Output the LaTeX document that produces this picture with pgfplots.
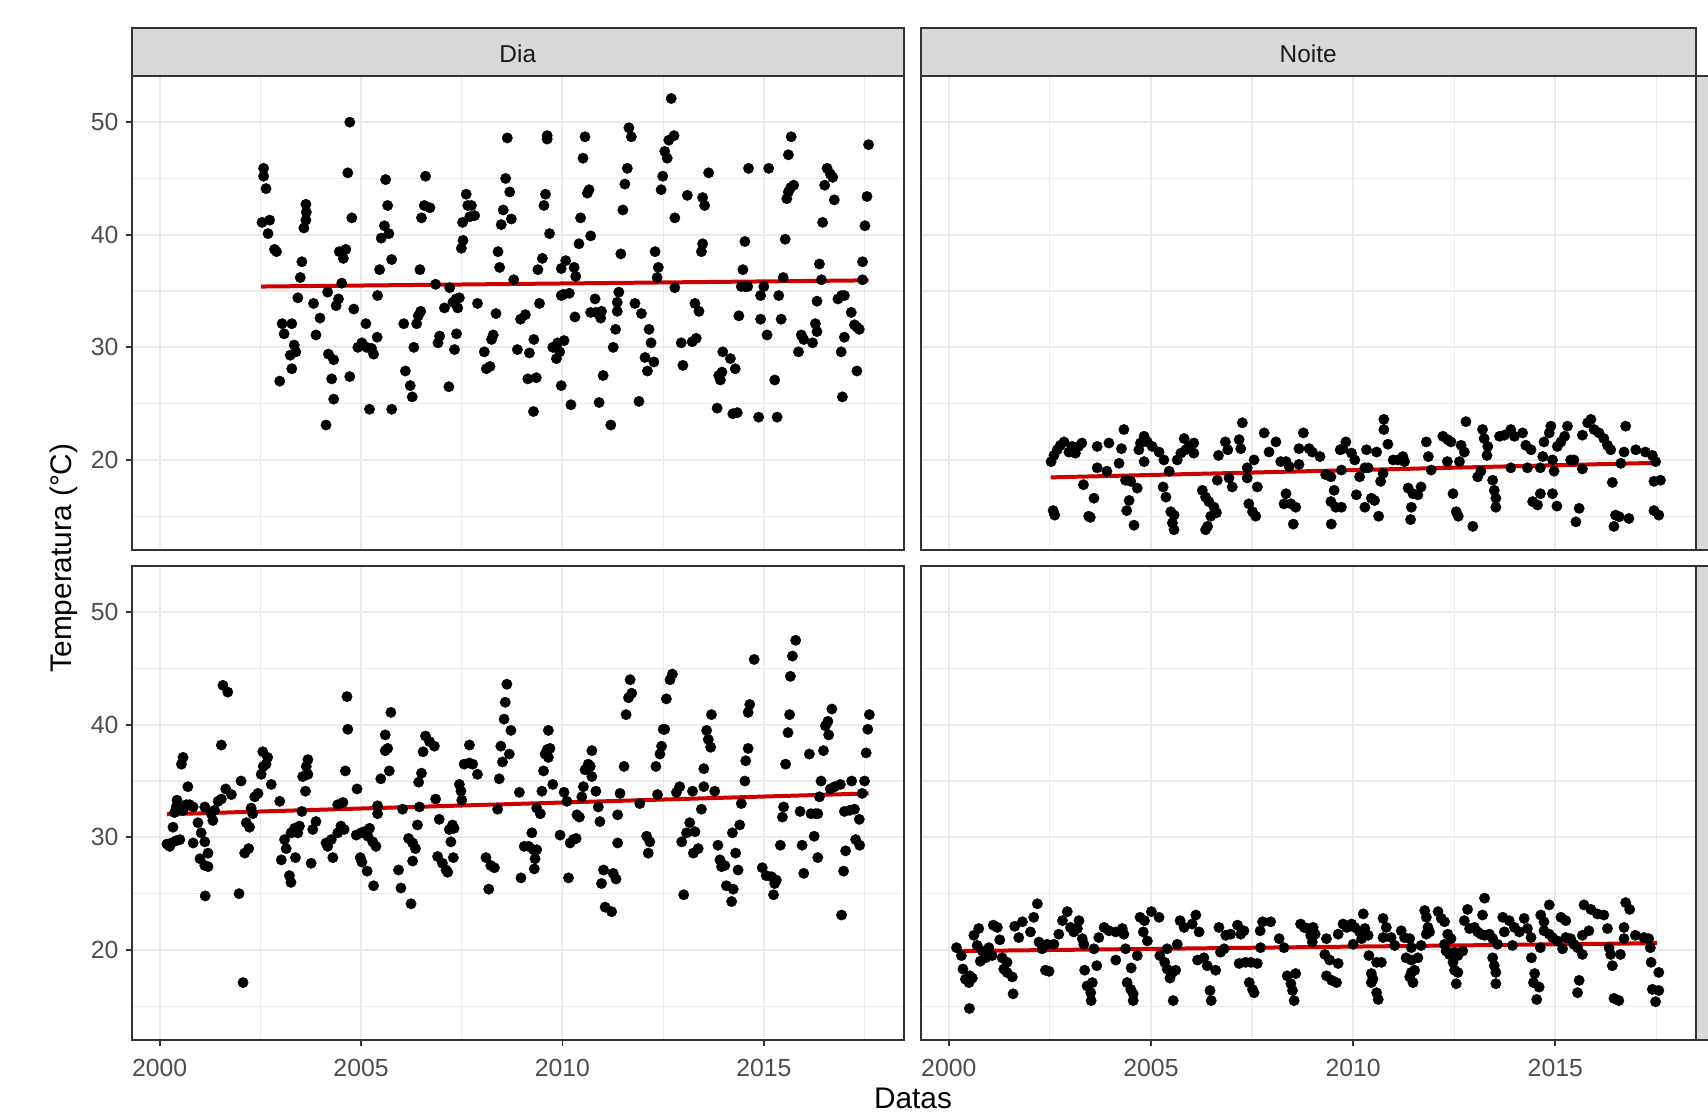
\documentclass[border=0pt]{standalone}
\usepackage{pgfplots}
\pgfplotsset{compat=1.18}
\usepackage{fontspec}
\setmainfont{Liberation Sans}

\definecolor{gridc}{HTML}{EBEBEB}
\definecolor{framec}{HTML}{333333}
\definecolor{stripc}{HTML}{D9D9D9}
\definecolor{tickc}{HTML}{4D4D4D}
\definecolor{striptext}{HTML}{1A1A1A}
\definecolor{fitc}{HTML}{CD0000}

\pgfplotsset{
  panel/.style={
    scale only axis, height=237pt, anchor=north west,
    xmin=1999.30, xmax=2018.48, ymin=12.0, ymax=54.1,
    xtick={2000,2005,2010,2015}, ytick={20,30,40,50},
    minor xtick={2002.5,2007.5,2012.5,2017.5}, minor ytick={15,25,35,45},
    grid=both,
    major grid style={draw=gridc, line width=1pt},
    minor grid style={draw=gridc, line width=0.6pt},
    axis line style={draw=framec, line width=1pt},
    tick align=outside, major tick length=3pt, minor tick length=0pt,
    tick style={draw=framec, line width=0.9pt},
    ticklabel style={font=\fontsize{12.4}{14}\selectfont, text=tickc},
    x tick label style={yshift=-3.2pt},
    /pgf/number format/assume math mode=true,
    x tick label style={/pgf/number format/1000 sep={}},
  },
  dots/.style={only marks, mark=*, mark size=2.6pt,
    mark options={fill=black, draw=black, line width=0.2pt}},
  fitline/.style={fitc, line width=2pt, no marks},
}

\begin{document}
\begin{tikzpicture}
\useasboundingbox (0,0) rectangle (854pt,-557pt);
\clip (0,0) rectangle (854pt,-557pt);

% Dia, top row
\begin{axis}[panel, width=386.25pt, at={(65.75pt,-38pt)},
  xtick pos=right, ytick pos=left, xticklabels={}]
\addplot[dots] coordinates {
(2002.58,45.9) (2002.58,45.2) (2002.64,44.1) (2002.54,41.1) (2002.73,41.3) (2002.69,40.1) (2002.85,38.7) (2002.9,38.5) (2002.98,27.0) (2003.04,32.1) (2003.28,32.1) (2003.09,31.2) (2003.34,30.2) (2003.38,29.6) (2003.24,29.3) (2003.28,28.1) (2003.43,34.4) (2003.49,36.2) (2003.53,37.6) (2003.58,40.6) (2003.63,41.3) (2003.64,42.0) (2003.63,42.7) (2003.82,33.9) (2003.98,32.6) (2003.88,31.1) (2004.13,23.1) (2004.19,29.4) (2004.32,28.9) (2004.27,27.2) (2004.32,25.4) (2004.17,34.9) (2004.38,33.7) (2004.44,34.3) (2004.52,35.7) (2004.46,38.5) (2004.56,37.9) (2004.62,38.7) (2004.67,45.5) (2004.72,50.0) (2004.77,41.5) (2004.72,27.4) (2004.82,33.4) (2004.92,30.0) (2005.02,30.4) (2005.14,30.0) (2005.26,29.9) (2005.31,29.4) (2005.12,32.1) (2005.21,24.5) (2005.4,30.9) (2005.41,34.6) (2005.46,36.9) (2005.5,39.7) (2005.58,40.8) (2005.69,40.1) (2005.66,42.6) (2005.61,44.9) (2005.76,37.8) (2005.76,24.5) (2006.06,32.1) (2006.1,27.9) (2006.22,26.6) (2006.27,25.6) (2006.31,30.0) (2006.38,32.1) (2006.42,32.8) (2006.48,33.2) (2006.46,36.9) (2006.5,41.5) (2006.57,42.6) (2006.71,42.4) (2006.6,45.2) (2006.85,35.6) (2006.91,30.4) (2006.95,31.0) (2007.18,26.5) (2007.07,33.5) (2007.2,35.3) (2007.28,34.0) (2007.36,34.3) (2007.4,33.5) (2007.44,34.4) (2007.37,31.2) (2007.32,29.8) (2007.49,38.8) (2007.53,39.5) (2007.52,41.1) (2007.7,41.6) (2007.82,41.7) (2007.65,42.6) (2007.61,43.6) (2007.74,42.6) (2007.89,33.9) (2008.06,29.6) (2008.11,28.1) (2008.2,28.3) (2008.24,30.7) (2008.28,31.1) (2008.35,33.0) (2008.4,38.5) (2008.44,37.1) (2008.48,40.9) (2008.53,42.2) (2008.73,41.4) (2008.69,43.8) (2008.59,45.0) (2008.63,48.6) (2008.79,36.0) (2008.88,29.8) (2008.96,32.5) (2009.08,32.9) (2009.18,29.5) (2009.14,27.2) (2009.35,27.3) (2009.28,24.3) (2009.29,30.7) (2009.43,33.9) (2009.39,36.9) (2009.5,37.9) (2009.54,42.6) (2009.58,43.6) (2009.62,48.8) (2009.62,48.5) (2009.68,40.1) (2009.76,30.0) (2009.88,30.4) (2009.93,29.6) (2009.85,29.0) (2009.97,26.6) (2009.97,37.0) (2009.97,34.6)
(2010.08,37.7) (2010.29,37.1) (2010.33,36.3) (2010.02,34.7) (2010.17,34.8) (2010.04,30.6) (2010.21,24.9) (2010.31,32.7) (2010.41,39.2) (2010.45,41.5) (2010.62,43.7) (2010.66,44.0) (2010.51,46.8) (2010.56,48.7) (2010.7,39.9) (2010.81,34.3) (2010.7,33.1) (2010.83,33.1) (2010.97,33.2) (2010.95,32.6) (2011.01,27.5) (2010.91,25.1) (2011.2,23.1) (2011.26,30.0) (2011.32,31.6) (2011.36,33.2) (2011.36,34.0) (2011.4,34.9) (2011.45,38.3) (2011.5,42.2) (2011.55,44.5) (2011.61,45.9) (2011.65,49.5) (2011.71,48.7) (2011.8,33.9) (2011.96,33.0) (2011.9,25.2) (2012.05,29.1) (2012.27,28.7) (2012.11,27.9) (2012.15,31.6) (2012.2,30.4) (2012.3,38.5) (2012.38,37.1) (2012.35,36.2) (2012.45,44.0) (2012.49,45.2) (2012.54,47.4) (2012.6,46.8) (2012.64,48.4) (2012.77,48.8) (2012.7,52.1) (2012.79,41.5) (2012.79,35.3) (2012.95,30.4) (2012.99,28.4) (2013.1,43.5) (2013.22,30.5) (2013.32,30.8) (2013.29,33.9) (2013.39,33.2) (2013.48,43.3) (2013.53,42.6) (2013.48,39.2) (2013.45,38.5) (2013.63,45.5) (2013.84,24.6) (2013.88,27.5) (2013.96,27.8) (2013.92,27.1) (2013.98,29.6) (2014.17,29.0) (2014.29,28.1) (2014.23,24.1) (2014.34,24.2) (2014.38,32.8) (2014.44,35.4) (2014.54,35.4) (2014.6,35.4) (2014.48,36.9) (2014.53,39.4) (2014.62,45.9) (2014.87,23.8) (2014.92,34.6) (2015.0,35.4) (2014.92,32.5) (2015.08,31.1) (2015.12,45.9) (2015.27,27.1) (2015.33,23.8) (2015.37,34.6) (2015.43,32.5) (2015.48,36.2) (2015.53,39.6) (2015.57,43.2) (2015.61,43.8) (2015.67,44.2) (2015.74,44.4) (2015.61,47.1) (2015.68,48.7) (2015.86,29.6) (2015.93,31.1) (2015.99,30.7) (2016.21,30.4) (2016.28,32.1) (2016.32,31.4) (2016.32,34.1) (2016.38,37.4) (2016.43,36.0) (2016.46,41.1) (2016.51,44.4) (2016.57,45.9) (2016.65,45.4) (2016.71,45.1) (2016.75,43.1) (2016.84,34.3) (2016.93,34.6) (2017.0,34.6) (2016.92,29.6) (2016.95,25.6) (2017.0,30.9) (2017.17,33.1) (2017.25,32.0) (2017.31,31.8) (2017.37,31.6) (2017.31,27.9) (2017.45,36.0) (2017.45,37.6) (2017.51,40.8) (2017.56,43.4) (2017.6,48.0)
};
\addplot[fitline] coordinates {(2002.52,35.4) (2017.6,35.95)};
\end{axis}

% Noite, top row
\begin{axis}[panel, width=387.75pt, at={(460.25pt,-38pt)},
  xtick pos=right, ytick pos=right, xticklabels={}, yticklabels={}]
\addplot[dots] coordinates {
(2002.53,19.85) (2002.6,20.4) (2002.68,20.9) (2002.76,21.3) (2002.85,21.6) (2002.97,20.7) (2003.05,21.2) (2003.13,20.6) (2003.21,21.2) (2003.29,21.5) (2002.58,15.5) (2002.62,15.1) (2003.33,17.8) (2003.46,15.0) (2003.5,14.9) (2003.59,16.6) (2003.67,21.2) (2003.67,19.3) (2003.91,19.0) (2003.96,21.5) (2004.21,19.7) (2004.27,21.0) (2004.33,22.7) (2004.37,18.2) (2004.5,18.1) (2004.46,16.4) (2004.4,15.5) (2004.58,14.2) (2004.66,17.5) (2004.7,20.9) (2004.83,22.1) (2004.91,21.6) (2004.74,21.5) (2004.83,19.85) (2005.03,21.2) (2005.2,20.7) (2005.32,20.0) (2005.45,19.0) (2005.3,17.6) (2005.37,16.7) (2005.49,15.4) (2005.57,15.1) (2005.53,14.4) (2005.57,13.8) (2005.65,20.0) (2005.74,20.6) (2005.82,21.9) (2005.86,20.9) (2005.94,21.2) (2006.06,20.6) (2006.06,21.5) (2006.27,17.3) (2006.35,16.7) (2006.43,16.3) (2006.56,15.8) (2006.48,15.0) (2006.4,14.1) (2006.35,13.8) (2006.62,15.3) (2006.67,20.4) (2006.84,21.6) (2006.9,20.9) (2006.64,18.2) (2006.93,18.4) (2007.01,17.6) (2007.18,21.8) (2007.22,21.0) (2007.26,23.3) (2007.38,19.3) (2007.38,18.4) (2007.55,20.0) (2007.42,16.1) (2007.51,15.4) (2007.59,15.0) (2007.63,17.6) (2007.8,22.4) (2007.92,20.7) (2008.09,21.6) (2008.21,19.85) (2008.34,19.85) (2008.42,19.4) (2008.34,17.0) (2008.29,16.1) (2008.46,16.1) (2008.58,15.8) (2008.52,14.3) (2008.66,21.0) (2008.77,22.4) (2008.91,21.0) (2008.99,20.7) (2009.18,20.3) (2008.66,19.6) (2009.32,18.7) (2009.45,18.5) (2009.53,17.3) (2009.45,16.3) (2009.57,15.8) (2009.46,14.3) (2009.68,20.9) (2009.82,21.6)
(2009.75,21.0) (2009.96,20.6) (2010.04,20.0) (2009.71,19.1) (2009.71,15.8) (2010.16,18.5) (2010.29,19.3) (2010.37,19.3) (2010.33,20.9) (2010.58,20.7) (2010.08,16.9) (2010.29,15.8) (2010.45,16.6) (2010.53,16.4) (2010.63,15.0) (2010.68,18.1) (2010.74,18.8) (2010.76,23.6) (2010.76,22.7) (2010.86,21.4) (2010.99,20.0) (2011.11,20.0) (2011.23,20.3) (2011.27,19.85) (2011.36,17.5) (2011.48,17.0) (2011.6,16.9) (2011.68,17.6) (2011.44,15.8) (2011.42,14.7) (2011.81,21.6) (2011.86,20.3) (2011.93,19.1) (2012.22,22.1) (2012.34,21.8) (2012.42,21.6) (2012.33,19.85) (2012.47,17.0) (2012.55,15.4) (2012.6,15.0) (2012.67,21.3) (2012.75,20.7) (2012.63,19.85) (2012.79,23.4) (2012.96,14.1) (2013.08,18.5) (2013.16,19.0) (2013.2,22.7) (2013.24,21.9) (2013.33,21.2) (2013.31,20.4) (2013.45,18.2) (2013.49,17.3) (2013.53,16.6) (2013.53,15.8) (2013.62,22.1) (2013.74,22.2) (2013.9,22.7) (2013.99,22.1) (2013.9,19.3) (2014.19,22.4) (2014.27,21.3) (2014.31,19.3) (2014.4,20.9) (2014.44,16.3) (2014.56,16.0) (2014.63,17.0) (2014.63,19.3) (2014.69,20.3) (2014.72,21.6) (2014.85,22.4) (2014.89,23.0) (2014.93,20.0) (2014.97,19.0) (2014.93,17.0) (2015.04,15.9) (2015.05,21.2) (2015.14,21.6) (2015.23,22.1) (2015.3,23.0) (2015.38,20.0) (2015.46,20.0) (2015.67,19.2) (2015.51,14.5) (2015.59,15.7) (2015.67,22.2) (2015.8,23.3) (2015.88,23.6) (2015.96,22.7) (2016.08,22.4) (2016.2,21.9) (2016.29,21.3) (2016.37,20.9) (2016.41,18.0) (2016.49,15.1) (2016.45,14.1) (2016.58,14.95) (2016.82,14.8) (2016.62,19.7) (2016.7,20.7) (2016.74,23.0) (2016.99,20.9) (2017.23,20.7) (2017.4,20.4) (2017.48,19.85) (2017.44,18.1) (2017.6,18.2) (2017.44,15.5) (2017.56,15.1)
};
\addplot[fitline] coordinates {(2002.52,18.45) (2017.58,19.75)};
\end{axis}

% Dia, bottom row
\begin{axis}[panel, width=386.25pt, at={(65.75pt,-283pt)},
  xtick pos=left, ytick pos=left]
\addplot[dots] coordinates {
(2000.18,29.4) (2000.25,29.2) (2000.29,29.5) (2000.41,29.7) (2000.5,29.8) (2000.33,30.9) (2000.37,32.2) (2000.41,32.7) (2000.43,33.3) (2000.5,32.6) (2000.58,32.4) (2000.74,32.9) (2000.83,32.7) (2000.66,32.9) (2000.54,36.5) (2000.58,37.1) (2000.7,34.5) (2000.83,29.5) (2000.95,31.3) (2001.03,30.4) (2001.12,29.6) (2001.0,28.1) (2001.2,28.6) (2001.2,27.4) (2001.12,27.5) (2001.13,24.8) (2001.12,32.7) (2001.28,32.1) (2001.36,32.4) (2001.32,31.5) (2001.45,33.2) (2001.53,33.4) (2001.53,38.2) (2001.57,43.5) (2001.69,42.9) (2001.64,34.3) (2001.78,33.8) (2001.97,25.0) (2002.02,35.0) (2002.07,17.1) (2002.15,31.3) (2002.23,30.9) (2002.11,28.6) (2002.21,29.0) (2002.31,32.1) (2002.27,32.6) (2002.36,33.6) (2002.44,33.9) (2002.52,35.6) (2002.57,36.3) (2002.56,37.6) (2002.68,37.1) (2002.64,36.5) (2002.77,34.7) (2002.98,33.2) (2003.02,28.0) (2003.1,29.8) (2003.14,29.0) (2003.22,26.6) (2003.26,26.0) (2003.26,30.4) (2003.35,30.8) (2003.43,30.4) (2003.47,31.0) (2003.37,28.2) (2003.53,32.3) (2003.62,34.1) (2003.55,35.4) (2003.68,35.6) (2003.64,36.3) (2003.68,36.9) (2003.76,27.7) (2003.8,30.7) (2003.88,31.4) (2004.17,29.2) (2004.26,29.8) (2004.42,30.4) (2004.5,31.0) (2004.58,30.7) (2004.13,29.5) (2004.3,28.2) (2004.42,32.9) (2004.55,33.1) (2004.61,35.9) (2004.67,39.6) (2004.65,42.5) (2004.9,34.3) (2004.88,30.2) (2005.0,30.4) (2005.08,30.5) (2005.21,30.8) (2005.17,30.1) (2005.29,29.6) (2005.37,29.2) (2004.98,28.2) (2005.02,27.8) (2005.15,27.0) (2005.31,25.7) (2005.41,32.8) (2005.41,32.1) (2005.49,35.2) (2005.6,37.7) (2005.66,37.9) (2005.6,39.1) (2005.7,35.9) (2005.74,41.1) (2005.93,27.1) (2005.99,25.5) (2006.03,32.5) (2006.18,29.9) (2006.28,29.5) (2006.35,29.0) (2006.28,27.9) (2006.24,24.1) (2006.4,31.1) (2006.45,32.7) (2006.43,34.9) (2006.5,35.7) (2006.54,37.6) (2006.6,39.0) (2006.7,38.5) (2006.82,38.1) (2006.85,33.4) (2006.9,28.3) (2007.02,27.7) (2007.11,27.1) (2007.15,26.9) (2006.94,31.6) (2007.19,30.7) (2007.27,31.1) (2007.31,30.8) (2007.23,29.6) (2007.29,28.2) (2007.44,34.7) (2007.48,34.1) (2007.5,33.3) (2007.56,36.5) (2007.69,36.6) (2007.77,36.5) (2007.69,38.2) (2007.89,35.6) (2008.1,28.2) (2008.22,27.5) (2008.31,27.3) (2008.17,25.4) (2008.39,32.5) (2008.43,35.2) (2008.51,36.7) (2008.47,38.1) (2008.55,40.5) (2008.58,42.0) (2008.62,43.6) (2008.72,39.5) (2008.68,37.4) (2008.93,34.0) (2008.97,26.4) (2009.05,29.2)
(2009.16,29.2) (2009.28,28.9) (2009.36,28.9) (2009.32,28.1) (2009.3,27.2) (2009.24,30.4) (2009.36,32.6) (2009.45,32.1) (2009.49,34.1) (2009.53,35.9) (2009.57,37.4) (2009.62,37.8) (2009.69,37.9) (2009.65,37.1) (2009.65,39.5) (2009.76,34.7) (2009.94,30.2) (2010.04,34.0) (2010.11,33.2) (2010.15,26.4) (2010.19,29.5) (2010.27,29.8) (2010.34,29.9) (2010.36,32.0) (2010.42,31.8) (2010.48,33.6) (2010.52,34.5) (2010.56,36.0) (2010.64,36.5) (2010.69,36.3) (2010.73,35.4) (2010.73,37.7) (2010.83,34.1) (2010.89,32.7) (2010.93,31.4) (2011.02,27.1) (2011.26,26.8) (2011.33,26.3) (2010.97,25.9) (2011.06,23.8) (2011.22,23.4) (2011.37,32.0) (2011.37,29.5) (2011.43,33.9) (2011.53,36.3) (2011.58,40.9) (2011.64,42.4) (2011.72,42.8) (2011.68,44.0) (2011.92,33.0) (2012.09,30.1) (2012.17,29.6) (2012.13,28.6) (2012.32,36.3) (2012.36,33.8) (2012.42,37.4) (2012.46,38.1) (2012.5,39.6) (2012.54,39.6) (2012.58,42.3) (2012.67,44.0) (2012.73,44.5) (2012.83,34.0) (2012.91,34.5) (2012.96,29.6) (2013.08,30.4) (2013.16,31.3) (2013.29,30.5) (2013.01,24.9) (2013.23,34.1) (2013.25,28.6) (2013.37,29.0) (2013.45,32.5) (2013.51,34.5) (2013.51,36.1) (2013.58,39.5) (2013.62,38.7) (2013.68,38.0) (2013.7,40.9) (2013.78,34.1) (2013.86,29.3) (2013.91,28.0) (2013.95,27.4) (2014.03,27.5) (2014.07,25.7) (2014.24,25.4) (2014.2,24.3) (2014.22,30.4) (2014.4,31.1) (2014.3,28.6) (2014.36,27.1) (2014.44,33.0) (2014.53,35.0) (2014.55,36.8) (2014.61,37.9) (2014.61,41.1) (2014.65,41.8) (2014.76,45.8) (2014.96,27.3) (2015.06,26.6) (2015.19,26.5) (2015.27,25.9) (2015.31,26.2) (2015.24,24.9) (2015.41,29.3) (2015.46,31.8) (2015.49,32.7) (2015.54,36.5) (2015.6,39.3) (2015.64,40.9) (2015.66,44.3) (2015.71,46.1) (2015.79,47.5) (2015.9,32.3) (2015.95,29.3) (2015.99,26.8) (2016.13,37.4) (2016.17,32.1) (2016.25,30.1) (2016.28,32.1) (2016.34,32.1) (2016.34,28.2) (2016.38,33.6) (2016.42,35.0) (2016.48,37.7) (2016.53,39.9) (2016.61,39.1) (2016.59,40.3) (2016.69,41.4) (2016.65,34.3) (2016.76,34.5) (2016.9,34.7) (2016.93,23.1) (2016.98,27.0) (2017.03,28.8) (2017.0,32.3) (2017.13,32.4) (2017.25,32.5) (2017.37,31.6) (2017.18,35.0) (2017.28,29.8) (2017.38,29.3) (2017.44,33.9) (2017.5,35.0) (2017.54,37.5) (2017.58,39.6) (2017.62,40.9)
};
\addplot[fitline] coordinates {(2000.18,32.05) (2017.6,33.9)};
\end{axis}

% Noite, bottom row
\begin{axis}[panel, width=387.75pt, at={(460.25pt,-283pt)},
  xtick pos=left, ytick pos=right, yticklabels={}]
\addplot[dots] coordinates {
(2000.19,20.2) (2000.31,19.5) (2000.35,18.3) (2000.41,17.4) (2000.5,17.1) (2000.58,17.5) (2000.52,17.7) (2000.51,14.8) (2000.62,21.3) (2000.74,21.9) (2000.7,20.4) (2000.83,19.9) (2000.78,19.0) (2000.91,19.3) (2000.99,20.2) (2001.07,19.5) (2001.1,22.2) (2001.2,22.0) (2001.26,20.9) (2001.32,19.3) (2001.44,18.9) (2001.36,18.3) (2001.44,18.0) (2001.57,17.6) (2001.59,16.1) (2001.63,22.1) (2001.73,21.1) (2001.82,22.5) (2002.02,21.6) (2002.1,22.9) (2002.19,24.1) (2002.23,20.7) (2002.31,20.1) (2002.43,20.5) (2002.39,18.2) (2002.48,18.1) (2002.6,20.5) (2002.72,21.4) (2002.81,22.6) (2002.93,23.4) (2003.01,22.0) (2003.09,21.6) (2003.22,22.6) (2003.18,21.9) (2003.3,21.0) (2003.34,20.5) (2003.36,18.2) (2003.42,16.8) (2003.55,17.1) (2003.51,16.2) (2003.52,15.5) (2003.66,18.6) (2003.59,20.1) (2003.71,21.1) (2003.84,22.0) (2003.96,21.7) (2004.13,21.6) (2004.29,21.9) (2004.33,21.4) (2004.13,19.1) (2004.37,20.1) (2004.41,17.1) (2004.5,16.5) (2004.56,16.1) (2004.56,15.5) (2004.51,18.4) (2004.66,19.5) (2004.73,22.9) (2004.81,21.6) (2004.91,20.8) (2004.84,22.6) (2005.01,23.4) (2005.2,22.9) (2005.22,19.5) (2005.34,18.9) (2005.4,20.1) (2005.65,20.5) (2005.4,18.3) (2005.53,18.0) (2005.61,18.2) (2005.47,17.5) (2005.55,15.5) (2005.72,22.6) (2005.82,22.0) (2006.11,23.1) (2006.02,22.3) (2006.19,21.6) (2006.15,19.1) (2006.31,19.3) (2006.39,18.6) (2006.6,18.2) (2006.46,16.4) (2006.49,15.5) (2006.68,22.0) (2006.85,21.3) (2006.97,21.4) (2007.14,22.2) (2007.22,21.4) (2007.3,21.7) (2006.72,19.8) (2006.81,20.1) (2007.18,18.8) (2007.34,18.9) (2007.47,18.9) (2007.63,18.8) (2007.43,17.1) (2007.51,16.5) (2007.55,16.2) (2007.7,21.7) (2007.76,22.5) (2007.96,22.5) (2007.71,20.2) (2008.17,21.0) (2008.29,20.2) (2008.37,17.7) (2008.58,17.9) (2008.46,17.0) (2008.5,16.4) (2008.54,15.5) (2008.7,22.3) (2008.79,22.0) (2008.87,21.9) (2008.95,21.3) (2008.99,20.7)
(2009.01,22.0) (2009.06,21.4) (2009.34,21.0) (2009.3,19.6) (2009.42,19.1) (2009.63,18.8) (2009.34,17.7) (2009.47,17.3) (2009.59,17.1) (2009.63,21.4) (2009.75,22.3) (2009.84,22.0) (2009.96,22.3) (2010.04,22.0) (2010.16,21.6) (2010.29,21.9) (2010.37,21.3) (2010.21,21.0) (2010.0,20.5) (2010.25,23.2) (2010.39,19.5) (2010.45,17.9) (2010.49,17.4) (2010.58,18.9) (2010.7,18.9) (2010.45,17.1) (2010.58,16.2) (2010.62,15.6) (2010.74,22.8) (2010.82,22.0) (2010.74,21.1) (2010.94,21.1) (2011.03,20.4) (2011.19,21.7) (2011.27,21.1) (2011.4,21.0) (2011.44,20.2) (2011.31,19.3) (2011.44,19.1) (2011.6,19.3) (2011.44,18.0) (2011.52,18.2) (2011.4,17.6) (2011.48,17.1) (2011.77,23.5) (2011.81,22.9) (2011.85,22.0) (2011.81,21.4) (2011.89,21.6) (2011.68,20.4) (2012.1,23.4) (2012.18,22.8) (2012.26,22.5) (2012.34,21.4) (2012.42,21.0) (2012.26,20.5) (2012.3,19.9) (2012.38,19.6) (2012.47,18.9) (2012.51,19.8) (2012.59,19.5) (2012.71,19.9) (2012.51,18.2) (2012.59,18.0) (2012.55,17.0) (2012.75,22.6) (2012.83,23.6) (2012.88,21.9) (2013.0,22.0) (2013.08,21.6) (2013.16,21.4) (2013.25,21.3) (2013.37,21.4) (2013.45,21.0) (2013.2,23.1) (2013.25,24.6) (2013.45,19.3) (2013.49,18.6) (2013.53,18.0) (2013.53,17.0) (2013.57,20.5) (2013.7,22.9) (2013.74,21.6) (2013.86,22.6) (2013.99,22.0) (2014.11,21.6) (2014.23,22.8) (2014.31,21.9) (2014.4,21.1) (2013.94,20.4) (2014.41,19.3) (2014.49,17.9) (2014.46,17.1) (2014.6,16.7) (2014.54,15.6) (2014.63,20.2) (2014.64,23.1) (2014.72,22.5) (2014.85,24.0) (2014.72,21.7) (2014.85,21.4) (2014.93,21.1) (2015.05,20.8) (2015.18,20.1) (2015.26,21.1) (2015.38,21.0) (2015.46,20.5) (2015.55,20.2) (2015.67,19.6) (2015.14,22.9) (2015.26,22.6) (2015.59,17.3) (2015.55,16.2) (2015.67,21.3) (2015.71,24.0) (2015.88,23.6) (2016.04,23.2) (2016.2,23.1) (2016.29,21.9) (2015.83,21.7) (2016.33,20.2) (2016.37,19.6) (2016.61,19.6) (2016.41,18.6) (2016.45,15.7) (2016.57,15.5) (2016.7,22.0) (2016.74,24.2) (2016.84,23.6) (2016.7,21.0) (2016.98,21.3) (2017.19,21.1) (2017.31,21.0) (2017.35,20.2) (2017.37,18.9) (2017.56,18.0) (2017.4,16.5) (2017.56,16.4) (2017.48,15.4)
};
\addplot[fitline] coordinates {(2000.21,19.9) (2017.52,20.6)};
\end{axis}

% facet strips
\draw[framec, line width=1pt, fill=stripc] (65.75pt,-13.75pt) rectangle (452pt,-38pt);
\draw[framec, line width=1pt, fill=stripc] (460.25pt,-13.75pt) rectangle (848pt,-38pt);
\draw[framec, line width=1pt, fill=stripc] (848pt,-38pt) rectangle (875pt,-275pt);
\draw[framec, line width=1pt, fill=stripc] (848pt,-283pt) rectangle (875pt,-520pt);
\node[text=striptext, font=\fontsize{12.2}{14}\selectfont] at (258.9pt,-26.8pt) {Dia};
\node[text=striptext, font=\fontsize{12.2}{14}\selectfont] at (654.1pt,-26.8pt) {Noite};

% axis titles
\node[font=\fontsize{14.9}{17}\selectfont] at (456.5pt,-549pt) {Datas};
\node[rotate=90, font=\fontsize{14.9}{17}\selectfont] at (32pt,-279pt) {Temperatura (°C)};
\end{tikzpicture}
\end{document}
